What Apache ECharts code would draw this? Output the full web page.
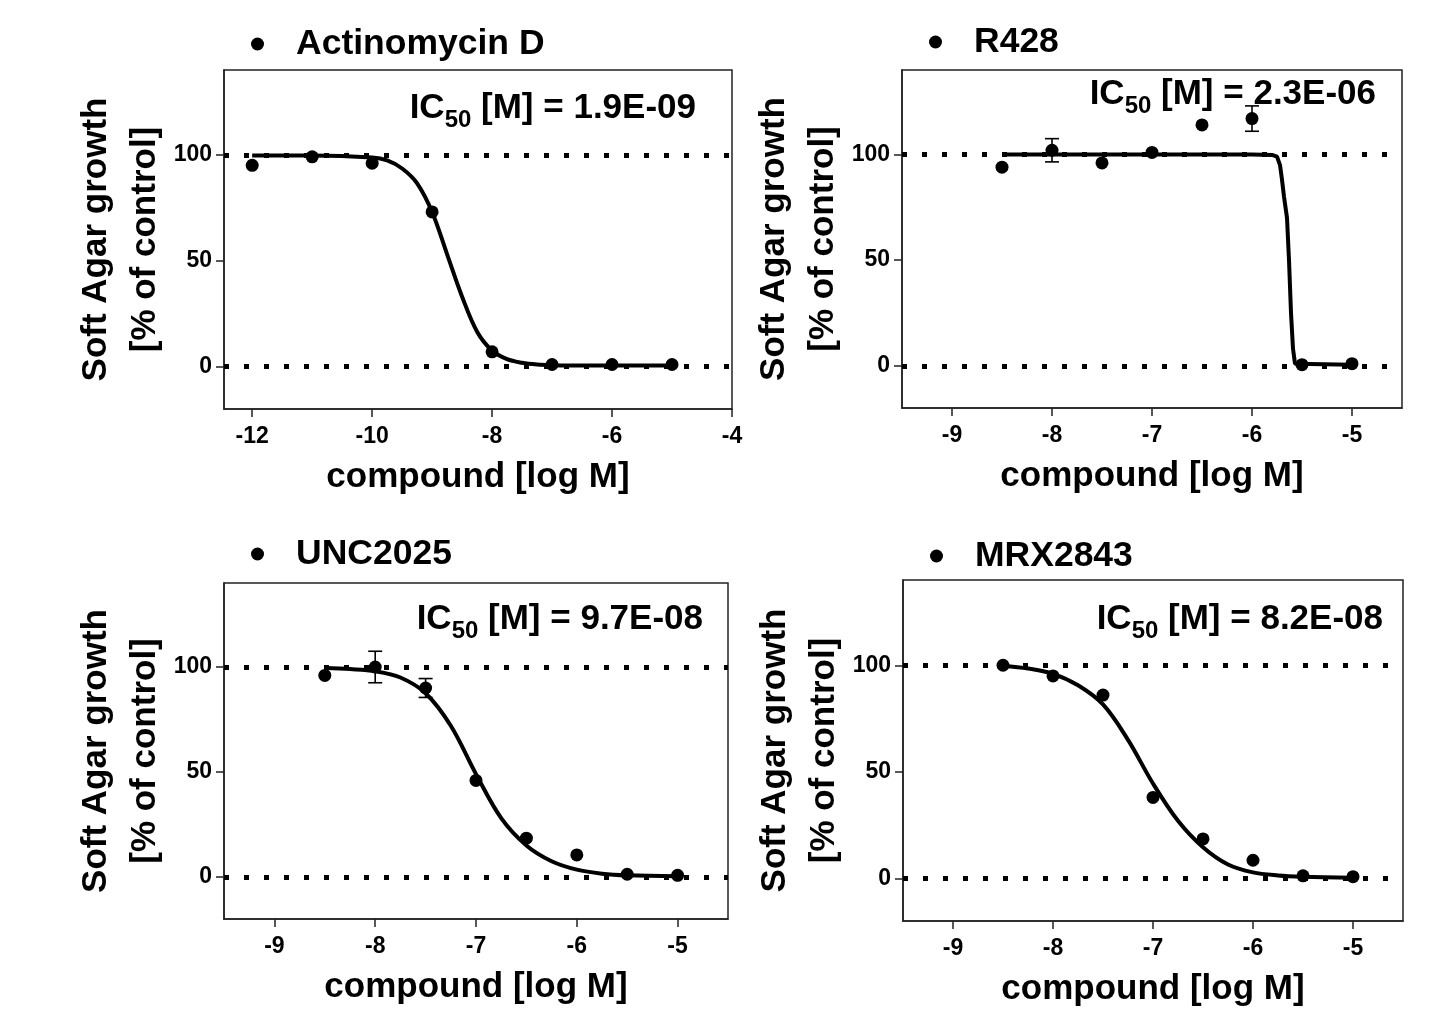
<!DOCTYPE html>
<html><head><meta charset="utf-8">
<script src="https://cdn.jsdelivr.net/npm/echarts@6/dist/echarts.min.js"></script>
<style>html,body{margin:0;padding:0;background:#fff}#c{width:1440px;height:1012px}</style>
</head><body><div id="c"></div>
<script>
// ---- data ----
const compounds = ['Actinomycin D', 'R428', 'UNC2025', 'MRX2843'];
const ic50Values = ['1.9E-09', '2.3E-06', '9.7E-08', '8.2E-08'];

const doseP1 = [-12, -11, -10, -9, -8, -7, -6, -5];
const growthP1 = [95, 99, 96, 73, 7, 1, 1, 1];
const errP1 = [0, 0, 0, 0, 0, 0, 0, 0];

const doseP2 = [-8.5, -8, -7.5, -7, -6.5, -6, -5.5, -5];
const growthP2 = [94, 102, 96, 101, 114, 117, 0.5, 1];
const errP2 = [0, 5.5, 0, 0, 0, 6, 0, 0];

const doseP3 = [-8.5, -8, -7.5, -7, -6.5, -6, -5.5, -5];
const growthP3 = [96, 100, 90, 46, 18.5, 10.5, 1.3, 0.8];
const errP3 = [0, 7.5, 4.5, 0, 0, 0, 0, 0];

const doseP4 = [-8.5, -8, -7.5, -7, -6.5, -6, -5.5, -5];
const growthP4 = [100, 95, 86, 38, 18.5, 8.5, 1.2, 0.8];
const errP4 = [0, 0, 0, 0, 0, 0, 0, 0];

// fitted curves
const fitXP1 = [-12, -11, -10, -9.75, -9.5, -9.25, -9, -8.75, -8.5, -8.25, -8, -7.75, -7.5, -7.25, -7, -6.5, -6, -5];
const fitYP1 = [99.7, 99.7, 98.7, 97.3, 93.5, 86.5, 73, 53, 33, 16.5, 7.6, 3.5, 1.8, 1.0, 0.7, 0.5, 0.5, 0.5];

const fitXP2 = [-8.5, -8, -7, -6, -5.8, -5.75, -5.72, -5.7, -5.68, -5.65, -5.63, -5.61, -5.59, -5.57, -5.55, -5];
const fitYP2 = [100, 100, 100, 100, 99.8, 99, 95, 88, 80, 70, 50, 25, 8, 1, 0.5, 0.5];

const fitXP3 = [-8.5, -8.25, -8, -7.75, -7.5, -7.25, -7, -6.75, -6.5, -6.25, -6, -5.75, -5.5, -5];
const fitYP3 = [99.5, 99, 98, 95, 87.5, 72, 49, 28, 15, 7.5, 3.5, 1.6, 0.8, 0.3];

const fitXP4 = [-8.5, -8.25, -8, -7.75, -7.5, -7.25, -7, -6.75, -6.5, -6.25, -6, -5.75, -5.5, -5];
const fitYP4 = [99.7, 98.5, 96, 90.6, 81.6, 65, 44.5, 27, 14.6, 6.5, 2.8, 1.4, 0.8, 0.3];

const yTicks = [0, 50, 100];
const xTicksP1 = [-12, -10, -8, -6, -4];
const xTicksOther = [-9, -8, -7, -6, -5];

// ---- layout ----
const FONT = '"Liberation Sans", Arial, Helvetica, sans-serif';
const panels = [
  { name: compounds[0], ic: ic50Values[0], dose: doseP1, g: growthP1, e: errP1, fx: fitXP1, fy: fitYP1, xt: xTicksP1, xmin: -12.47, xmax: -4,
    grid: { left: 224, top: 70, width: 508, height: 339 }, leg: { left: 251, top: 26 }, icRight: 744, icTop: 84 },
  { name: compounds[1], ic: ic50Values[1], dose: doseP2, g: growthP2, e: errP2, fx: fitXP2, fy: fitYP2, xt: xTicksOther, xmin: -9.5, xmax: -4.5,
    grid: { left: 902, top: 70, width: 500, height: 338 }, leg: { left: 929, top: 24 }, icRight: 64, icTop: 70 },
  { name: compounds[2], ic: ic50Values[2], dose: doseP3, g: growthP3, e: errP3, fx: fitXP3, fy: fitYP3, xt: xTicksOther, xmin: -9.5, xmax: -4.5,
    grid: { left: 224, top: 583, width: 504, height: 336 }, leg: { left: 251, top: 536 }, icRight: 737, icTop: 595 },
  { name: compounds[3], ic: ic50Values[3], dose: doseP4, g: growthP4, e: errP4, fx: fitXP4, fy: fitYP4, xt: xTicksOther, xmin: -9.5, xmax: -4.5,
    grid: { left: 903, top: 580, width: 500, height: 341 }, leg: { left: 930, top: 538 }, icRight: 57, icTop: 595 }
];

const grids = [], xAxes = [], yAxes = [], series = [], legends = [], titles = [];
panels.forEach((p, i) => {
  grids.push(Object.assign({ show: true, borderColor: '#222', borderWidth: 1.5, backgroundColor: 'transparent' }, p.grid));
  xAxes.push({
    type: 'value', gridIndex: i, min: p.xmin, max: p.xmax,
    name: 'compound [log M]', nameLocation: 'middle', nameGap: 50,
    nameTextStyle: { fontFamily: FONT, fontWeight: 'bold', fontSize: 35, color: '#000', verticalAlign: 'top', lineHeight: 36 },
    axisLine: { show: true, onZero: false, lineStyle: { color: '#222', width: 1.5 } },
    axisTick: { show: true, length: 8, lineStyle: { color: '#222', width: 1.5 }, customValues: p.xt },
    axisLabel: { fontFamily: FONT, fontWeight: 'bold', fontSize: 23, color: '#000', margin: 16, customValues: p.xt },
    splitLine: { show: false }
  });
  yAxes.push({
    type: 'value', gridIndex: i, min: -20, max: 140,
    name: 'Soft Agar growth\n[% of control]', nameLocation: 'middle', nameRotate: 90, nameGap: 54,
    nameTextStyle: { fontFamily: FONT, fontWeight: 'bold', fontSize: 35, color: '#000', lineHeight: 49 },
    axisLine: { show: true, onZero: false, lineStyle: { color: '#222', width: 1.5 } },
    axisTick: { show: true, length: 8, lineStyle: { color: '#222', width: 1.5 }, customValues: yTicks },
    axisLabel: { fontFamily: FONT, fontWeight: 'bold', fontSize: 23, color: '#000', margin: 12, customValues: yTicks },
    splitLine: { show: false }
  });
  // fitted curve with reference dotted lines at 100 and 0
  series.push({
    type: 'line', xAxisIndex: i, yAxisIndex: i, showSymbol: false, symbol: 'none',
    smooth: i === 1 ? false : 0.35,
    data: p.fx.map((x, k) => [x, p.fy[k]]),
    lineStyle: { color: '#000', width: 4 }, z: 3, silent: true,
    markLine: {
      silent: true, symbol: 'none', label: { show: false },
      lineStyle: { color: '#000', width: 5, type: [5, 15], cap: 'butt', opacity: 1 },
      data: [{ yAxis: 100 }, { yAxis: 0 }], z: 1
    }
  });
  // error bars
  const errData = [];
  p.dose.forEach((x, k) => { if (p.e[k] > 0) errData.push([x, p.g[k] - p.e[k], p.g[k] + p.e[k]]); });
  series.push({
    type: 'custom', xAxisIndex: i, yAxisIndex: i, silent: true, z: 4,
    data: errData,
    renderItem: function (params, api) {
      const lo = api.coord([api.value(0), api.value(1)]);
      const hi = api.coord([api.value(0), api.value(2)]);
      const w = 7;
      const st = { stroke: '#000', lineWidth: 1.6 };
      return { type: 'group', children: [
        { type: 'line', shape: { x1: lo[0], y1: lo[1], x2: hi[0], y2: hi[1] }, style: st },
        { type: 'line', shape: { x1: lo[0] - w, y1: lo[1], x2: lo[0] + w, y2: lo[1] }, style: st },
        { type: 'line', shape: { x1: hi[0] - w, y1: hi[1], x2: hi[0] + w, y2: hi[1] }, style: st }
      ] };
    }
  });
  // measured points
  series.push({
    type: 'scatter', name: p.name, xAxisIndex: i, yAxisIndex: i, z: 5,
    symbol: 'circle', symbolSize: 13, itemStyle: { color: '#000', opacity: 1 },
    data: p.dose.map((x, k) => [x, p.g[k]])
  });
  legends.push({
    data: [{ name: p.name, icon: 'circle', itemStyle: { color: '#000', opacity: 1 } }], left: p.leg.left, top: p.leg.top, padding: 0,
    itemWidth: 13, itemHeight: 13, selectedMode: false,
    formatter: '{t|{name}}',
    textStyle: { rich: { t: { fontFamily: FONT, fontWeight: 'bold', fontSize: 35.5, color: '#000', lineHeight: 42, padding: [0, 0, 0, 27] } } }
  });
  titles.push({
    text: '{a|IC}{s|50}{a| [M] = ' + p.ic + '}',
    right: p.icRight, top: p.icTop, padding: 0,
    textStyle: { rich: {
      a: { fontFamily: FONT, fontWeight: 'bold', fontSize: 35, color: '#000', lineHeight: 48 },
      s: { fontFamily: FONT, fontWeight: 'bold', fontSize: 24, color: '#000', lineHeight: 24, verticalAlign: 'bottom' }
    } }
  });
});

const chart = echarts.init(document.getElementById('c'), null, { renderer: 'canvas' });
chart.setOption({
  animation: false, backgroundColor: '#fff',
  title: titles, legend: legends, grid: grids, xAxis: xAxes, yAxis: yAxes, series: series
});
</script></body></html>
